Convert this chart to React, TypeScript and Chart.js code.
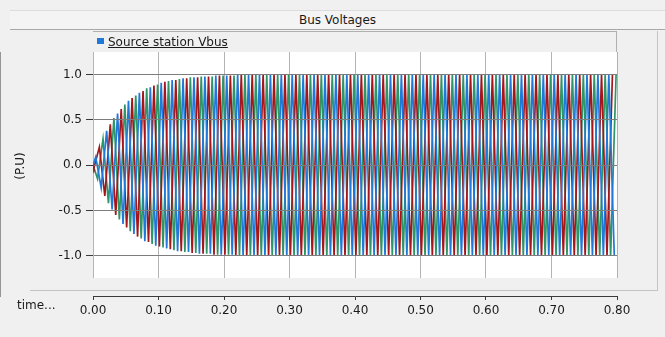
import React, { useEffect, useRef } from 'react';
import { Chart, registerables } from 'chart.js';

Chart.register(...registerables);

// ---------------- data ----------------
const TITLE = 'Bus Voltages';
const SERIES_NAME = 'Source station Vbus';
const X_AXIS_NAME = 'time...';
const Y_AXIS_NAME = '(P.U)';

const X_TICKS = [0, 0.1, 0.2, 0.3, 0.4, 0.5, 0.6, 0.7, 0.8];
const Y_TICKS = [-1, -0.5, 0, 0.5, 1];

// sample spacing (half a 60 Hz cycle) and first peak time of each phase (s)
const HALF_CYCLE_S = 1 / 120;
const FIRST_PEAK_BLUE = 0.00417;
const FIRST_PEAK_RED = 0.00139;
const FIRST_PEAK_GREEN = 0.00694;

// value at t = 0 followed by successive peak values (P.U)
const phaseBlue = [
  0,
  0.09, -0.25, 0.38, -0.49, 0.57, -0.65, 0.71, -0.76, 0.80, -0.84,
  0.86, -0.89, 0.91, -0.92, 0.94, -0.95, 0.96, -0.96, 0.97, -0.98,
  0.98, -0.98, 0.99, -0.99, 0.99, -0.99,
  1, -1, 1, -1, 1, -1, 1, -1, 1, -1,
  1, -1, 1, -1, 1, -1, 1, -1, 1, -1,
  1, -1, 1, -1, 1, -1, 1, -1, 1, -1,
  1, -1, 1, -1, 1, -1, 1, -1, 1, -1,
  1, -1, 1, -1, 1, -1, 1, -1, 1, -1,
  1, -1, 1, -1, 1, -1, 1, -1, 1, -1,
  1, -1, 1, -1, 1, -1, 1, -1, 1, -1,
];
const phaseRed = [
  0,
  -0.03, 0.20, -0.34, 0.45, -0.55, 0.62, -0.69, 0.74, -0.79, 0.82,
  -0.85, 0.88, -0.90, 0.92, -0.93, 0.94, -0.95, 0.96, -0.97, 0.97,
  -0.98, 0.98, -0.99, 0.99, -0.99, 0.99,
  -1, 1, -1, 1, -1, 1, -1, 1, -1, 1,
  -1, 1, -1, 1, -1, 1, -1, 1, -1, 1,
  -1, 1, -1, 1, -1, 1, -1, 1, -1, 1,
  -1, 1, -1, 1, -1, 1, -1, 1, -1, 1,
  -1, 1, -1, 1, -1, 1, -1, 1, -1, 1,
  -1, 1, -1, 1, -1, 1, -1, 1, -1, 1,
  -1, 1, -1, 1, -1, 1, -1, 1, -1, 1,
];
const phaseGreen = [
  0,
  -0.15, 0.29, -0.42, 0.52, -0.60, 0.67, -0.73, 0.77, -0.81, 0.85,
  -0.87, 0.89, -0.91, 0.93, -0.94, 0.95, -0.96, 0.97, -0.97, 0.98,
  -0.98, 0.98, -0.99, 0.99, -0.99, 0.99,
  -1, 1, -1, 1, -1, 1, -1, 1, -1, 1,
  -1, 1, -1, 1, -1, 1, -1, 1, -1, 1,
  -1, 1, -1, 1, -1, 1, -1, 1, -1, 1,
  -1, 1, -1, 1, -1, 1, -1, 1, -1, 1,
  -1, 1, -1, 1, -1, 1, -1, 1, -1, 1,
  -1, 1, -1, 1, -1, 1, -1, 1, -1, 1,
  -1, 1, -1, 1, -1, 1, -1, 1, -1, 1,
];

// ---------------- styling ----------------
const BG = '#f0f0f0';
const FONT = '"DejaVu Sans", "Noto Sans", sans-serif';
const BLUE = '#2079d8';
const RED = '#a3161b';
const GREEN = '#2f9466';
const LINE_WIDTH = 1.7;
const PLOT_TOP_VALUE = 1.25;
const PLOT_BOTTOM_VALUE = -1.25;
const AXIS_BOTTOM_VALUE = -1.446;

function toPoints(values: number[], firstPeak: number) {
  return values.map((v, i) => ({ x: i === 0 ? 0 : firstPeak + (i - 1) * HALF_CYCLE_S, y: v }));
}

const framePlugin = {
  id: 'framePlugin',
  beforeDraw(chart: any) {
    const { ctx, chartArea, scales } = chart;
    const top = scales.y.getPixelForValue(PLOT_TOP_VALUE);
    const bottom = scales.y.getPixelForValue(PLOT_BOTTOM_VALUE);
    ctx.save();
    ctx.fillStyle = '#ffffff';
    ctx.fillRect(chartArea.left, top, chartArea.right - chartArea.left, bottom - top);
    ctx.restore();
  },
  afterDraw(chart: any) {
    const { ctx, chartArea, scales } = chart;
    const bottom = Math.round(scales.y.getPixelForValue(PLOT_BOTTOM_VALUE));
    ctx.save();
    ctx.fillStyle = BG;
    ctx.fillRect(chartArea.left - 3, bottom, chartArea.right - chartArea.left + 6, Math.floor(chartArea.bottom) - bottom);
    ctx.restore();
  },
};

export default function App() {
  const ref = useRef<HTMLCanvasElement>(null);

  useEffect(() => {
    const chart = new Chart(ref.current as HTMLCanvasElement, {
      type: 'line',
      data: {
        datasets: [
          { label: SERIES_NAME, data: toPoints(phaseBlue, FIRST_PEAK_BLUE), borderColor: BLUE, backgroundColor: BLUE, borderWidth: LINE_WIDTH, pointRadius: 0, tension: 0 },
          { label: 'red', data: toPoints(phaseRed, FIRST_PEAK_RED), borderColor: RED, backgroundColor: RED, borderWidth: LINE_WIDTH, pointRadius: 0, tension: 0 },
          { label: 'green', data: toPoints(phaseGreen, FIRST_PEAK_GREEN), borderColor: GREEN, backgroundColor: GREEN, borderWidth: LINE_WIDTH, pointRadius: 0, tension: 0 },
        ],
      },
      options: {
        responsive: false,
        devicePixelRatio: 1,
        animation: false,
        events: [],
        layout: { padding: { top: 52, right: 48, bottom: 21, left: 0 } },
        plugins: { legend: { display: false }, title: { display: false }, tooltip: { enabled: false } },
        scales: {
          x: {
            type: 'linear',
            min: 0,
            max: 0.8,
            afterBuildTicks: (s: any) => { s.ticks = X_TICKS.map((v) => ({ value: v })); },
            afterFit: (s: any) => { s.height = 20; },
            ticks: { callback: (v: any) => Number(v).toFixed(2), color: '#1a1a1a', font: { family: FONT, size: 12 }, padding: 4, maxRotation: 0, autoSkip: false },
            grid: { color: '#b4b4b4', tickColor: '#3a3a3a', tickLength: 4, drawOnChartArea: true },
            border: { color: '#3a3a3a', width: 1 },
          },
          y: {
            type: 'linear',
            min: AXIS_BOTTOM_VALUE,
            max: PLOT_TOP_VALUE,
            afterBuildTicks: (s: any) => { s.ticks = Y_TICKS.map((v) => ({ value: v })); },
            afterFit: (s: any) => { s.width = 93; },
            ticks: { callback: (v: any) => Number(v).toFixed(1), color: '#1a1a1a', font: { family: FONT, size: 12 }, padding: 4, autoSkip: false },
            grid: { color: '#7d7d7d', tickColor: '#3a3a3a', tickLength: 7, drawOnChartArea: true, z: 1 },
            border: { color: '#3a3a3a', width: 1 },
          },
        },
      },
      plugins: [framePlugin],
    } as any);
    return () => chart.destroy();
  }, []);

  return (
    <div style={{ position: 'fixed', left: 0, top: 0, width: 665, height: 337, background: BG, overflow: 'hidden', fontFamily: FONT, color: '#1a1a1a' }}>
      <canvas ref={ref} width={665} height={337} style={{ position: 'absolute', left: 0, top: 0, width: 665, height: 337 }} />
      {/* title bar */}
      <div style={{ position: 'absolute', left: 10, top: 10, width: 655, height: 18, background: '#f4f4f4', borderTop: '1px solid #dcdcdc', borderBottom: '1px solid #a8a8a8', textAlign: 'center', fontSize: 12, lineHeight: '18px' }}>{TITLE}</div>
      {/* legend box */}
      <div style={{ position: 'absolute', left: 93, top: 31, width: 523, height: 20, borderTop: '1px solid #b0b0b0', borderRight: '1px solid #b0b0b0' }}>
        <div style={{ position: 'absolute', left: 4, top: 6, width: 7, height: 6, background: BLUE }} />
        <div style={{ position: 'absolute', left: 15, top: 2, fontSize: 12, lineHeight: '16px', textDecoration: 'underline', whiteSpace: 'nowrap' }}>{SERIES_NAME}</div>
      </div>
      {/* plot right border */}
      <div style={{ position: 'absolute', left: 617, top: 52, width: 1, height: 226, background: '#b0b0b0' }} />
      {/* outer panel frame */}
      <div style={{ position: 'absolute', left: 30, top: 290, width: 628, height: 1, background: '#c4c4c4' }} />
      <div style={{ position: 'absolute', left: 657, top: 31, width: 1, height: 260, background: '#c4c4c4' }} />
      {/* axis names */}
      <div style={{ position: 'absolute', left: 17, top: 297, fontSize: 12, lineHeight: '16px' }}>{X_AXIS_NAME}</div>
      <div style={{ position: 'absolute', left: 20, top: 166, fontSize: 12, lineHeight: '14px', transform: 'translate(-50%, -50%) rotate(-90deg)', whiteSpace: 'nowrap' }}>{Y_AXIS_NAME}</div>
    </div>
  );
}
